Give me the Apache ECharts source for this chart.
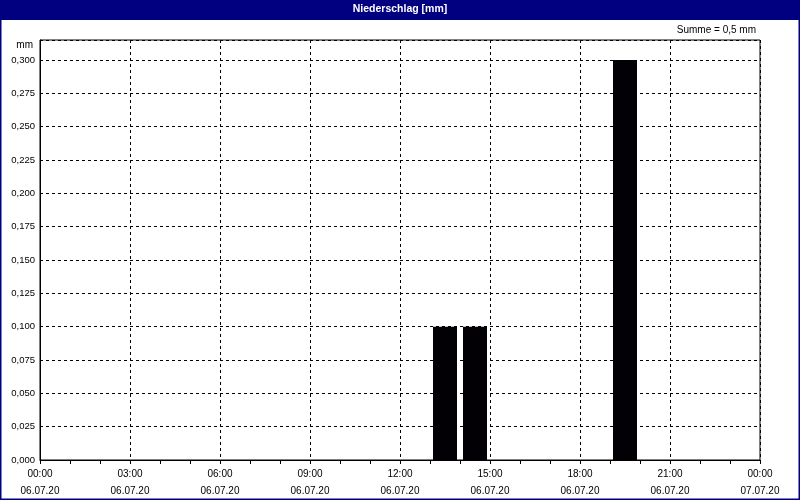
<!DOCTYPE html>
<html>
<head>
<meta charset="utf-8">
<script src="https://cdn.jsdelivr.net/npm/echarts@6/dist/echarts.min.js"></script>
<style>html,body{margin:0;padding:0;background:#fff}#c{width:800px;height:500px}</style>
</head>
<body>
<div id="c"></div>
<script>
// Data
const chartTitle = 'Niederschlag [mm]';
const sumLabel = 'Summe = 0,5 mm';
const unitLabel = 'mm';
const hourCategories = ['00:00','01:00','02:00','03:00','04:00','05:00','06:00','07:00','08:00','09:00','10:00','11:00',
  '12:00','13:00','14:00','15:00','16:00','17:00','18:00','19:00','20:00','21:00','22:00','23:00'];
const precipValues = [0,0,0,0,0,0,0,0,0,0,0,0,0,0.1,0.1,0,0,0,0,0.3,0,0,0,0];
const xTickTimes = ['00:00','03:00','06:00','09:00','12:00','15:00','18:00','21:00','00:00'];
const xTickDates = ['06.07.20','06.07.20','06.07.20','06.07.20','06.07.20','06.07.20','06.07.20','06.07.20','07.07.20'];

const FONT = 'Liberation Sans';
const chart = echarts.init(document.getElementById('c'));
chart.setOption({
  animation: false,
  backgroundColor: '#ffffff',
  textStyle: { fontFamily: FONT },
  graphic: [
    { type: 'rect', z: -10, shape: { x: 0, y: 0, width: 800, height: 20 }, style: { fill: '#000080' } },
    { type: 'rect', z: -10, shape: { x: 0.5, y: 0.5, width: 799, height: 499 }, style: { fill: null, stroke: '#000080', lineWidth: 2 } }
  ],
  title: [
    { text: chartTitle, left: 'center', top: 4, padding: 0, textStyle: { color: '#fff', fontSize: 10.5, fontWeight: 'bold', fontFamily: FONT } },
    { text: sumLabel, right: 44, top: 25, padding: 0, textStyle: { color: '#000', fontSize: 10, fontWeight: 'normal', fontFamily: FONT } },
    { text: unitLabel, right: 767, top: 40, padding: 0, textStyle: { color: '#000', fontSize: 10, fontWeight: 'normal', fontFamily: FONT } }
  ],
  grid: { left: 40, right: 40, top: 40, bottom: 40, show: true, borderColor: '#000', borderWidth: 1, backgroundColor: 'transparent' },
  xAxis: [
    { type: 'category', data: hourCategories, show: false, boundaryGap: true },
    {
      type: 'value', min: 0, max: 24, interval: 3, position: 'bottom',
      axisLine: { show: true, lineStyle: { color: '#000', width: 1 } },
      axisTick: { show: true, length: 4, lineStyle: { color: '#000' } },
      minorTick: { show: true, splitNumber: 3, length: 4, lineStyle: { color: '#000' } },
      splitLine: { show: true, lineStyle: { color: '#000', type: [3, 3], width: 1 } },
      axisLabel: {
        color: '#000', fontSize: 10, lineHeight: 17, margin: 6, fontFamily: FONT,
        formatter: function (v) { const i = Math.round(v / 3); return xTickTimes[i] + '\n' + xTickDates[i]; }
      }
    }
  ],
  yAxis: {
    type: 'value', min: 0, max: 0.315, interval: 0.025,
    axisLine: { show: true, lineStyle: { color: '#000' } },
    axisTick: { show: false },
    splitLine: { show: true, lineStyle: { color: '#000', type: [3, 3], width: 1 } },
    axisLabel: {
      color: '#000', fontSize: 9.5, margin: 5, fontFamily: FONT,
      formatter: function (v) { return v > 0.3001 ? '' : v.toFixed(3).replace('.', ','); }
    }
  },
  series: [{
    type: 'bar', xAxisIndex: 0, yAxisIndex: 0, data: precipValues, barWidth: 24,
    itemStyle: { color: '#030005' }, z: 3
  }]
});
</script>
</body>
</html>
